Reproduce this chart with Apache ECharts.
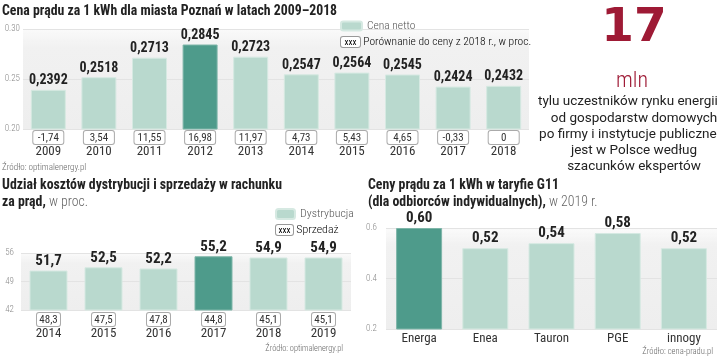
<!DOCTYPE html>
<html>
<head>
<meta charset="utf-8">
<script src="https://cdn.jsdelivr.net/npm/echarts@6/dist/echarts.min.js"></script>
<style>html,body{margin:0;padding:0;background:#fff}#c{width:720px;height:357px}</style>
</head>
<body>
<div id="c"></div>
<script>
// ---- data ----
const years1 = ['2009','2010','2011','2012','2013','2014','2015','2016','2017','2018'];
const price1 = [0.2392,0.2518,0.2713,0.2845,0.2723,0.2547,0.2564,0.2545,0.2424,0.2432];
const pct1 = [-1.74,3.54,11.55,16.98,11.97,4.73,5.43,4.65,-0.33,0];
const yTicks1 = [0.20,0.25,0.30];

const years2 = ['2014','2015','2016','2017','2018','2019'];
const dist2 = [51.7,52.5,52.2,55.2,54.9,54.9];
const sales2 = [48.3,47.5,47.8,44.8,45.1,45.1];
const yTicks2 = [42,49,56];

const companies3 = ['Energa','Enea','Tauron','PGE','innogy'];
const price3 = [0.60,0.52,0.54,0.58,0.52];
const yTicks3 = [0.2,0.4,0.6];

const highlight1 = '2012', highlight2 = '2017', highlight3 = 'Energa';

// ---- style ----
const FONT = '"Roboto Condensed",Roboto,sans-serif';
const PFONT = 'Roboto,sans-serif';
const LIGHT = '#b9d9ce', DARK = '#4e9b8b';
const comma = (v, d) => (d === undefined ? String(v) : v.toFixed(d)).replace('.', ',');

const gridBg = {type:'linear',x:0,y:0,x2:0,y2:1,colorStops:[
  {offset:0,color:'rgba(240,240,240,0.3)'},{offset:0.18,color:'#f1f1f1'},{offset:1,color:'#eeeeee'}]};

function barData(vals, cats, hl){
  return vals.map((v,i)=>({value:v, itemStyle: cats[i]===hl ? {color:DARK, borderColor:'#7fb6a9'} : {}}));
}
function valAxis(gi, min, max, interval, dec, margin){
  return {type:'value', gridIndex:gi, min, max, interval,
    axisLine:{show:false}, axisTick:{show:false},
    splitLine:{show:true, lineStyle:{color:'#e3e3e3', width:1}},
    axisLabel:{fontFamily:FONT, fontSize:9, fontWeight:300, color:'#8a8a8a', margin,
      formatter:v=>dec===0?String(Math.round(v)):v.toFixed(dec)}};
}
const boxRich = {fontFamily:FONT, fontSize:11, color:'#333', borderColor:'#aaaaaa', borderWidth:1,
  borderRadius:2, padding:[2,3,0,3], backgroundColor:'#fff', lineHeight:11, align:'center'};
const yrRich = {fontFamily:FONT, fontSize:13, color:'#333', lineHeight:17, align:'center'};
const TSIZE = 13.8;
const titleRich = {b:{fontFamily:FONT, fontSize:TSIZE, fontWeight:'bold', color:'#222', lineHeight:17},
                   l:{fontFamily:FONT, fontSize:TSIZE, fontWeight:300, color:'#666', lineHeight:17}};
const valLabel = {show:true, position:'top', distance:2, fontFamily:FONT, fontSize:14, fontWeight:'bold', color:'#222'};

const option = {
  animation:false,
  textStyle:{fontFamily:FONT},
  title:[
    {text:'Cena prądu za 1 kWh dla miasta Poznań w latach 2009–2018', left:2, top:5, padding:0,
     textStyle:{fontFamily:FONT, fontSize:TSIZE, fontWeight:'bold', color:'#222'}},
    {text:'{b|Udział kosztów dystrybucji i sprzedaży w rachunku}\n{b|za prąd,}{l| w proc.}', left:2, top:177, padding:0,
     textStyle:{rich:titleRich}},
    {text:'{b|Ceny prądu za 1 kWh w taryfie G11}\n{b|(dla odbiorców indywidualnych),}{l| w 2019 r.}', left:368, top:177, padding:0,
     textStyle:{rich:titleRich}}
  ],
  legend:[
    {data:['Cena netto'], left:340, top:20, padding:0, itemWidth:21, itemHeight:9, icon:'roundRect',
     textStyle:{fontFamily:FONT, fontSize:11.5, fontWeight:300, color:'#555'}},
    {data:['Dystrybucja'], left:275, top:208, padding:0, itemWidth:19, itemHeight:10, icon:'roundRect',
     textStyle:{fontFamily:FONT, fontSize:11.8, fontWeight:300, color:'#555'}}
  ],
  grid:[
    {left:23, top:29, width:506, height:100, show:true, backgroundColor:gridBg, borderWidth:0},
    {left:21, top:253, width:330, height:57, show:true, backgroundColor:gridBg, borderWidth:0},
    {left:386, top:228, width:331, height:101, show:true, backgroundColor:gridBg, borderWidth:0}
  ],
  xAxis:[
    {type:'category', gridIndex:0, data:years1, axisLine:{show:false}, axisTick:{show:false},
     axisLabel:{interval:0, margin:3, formatter:(v,i)=>'{p|'+comma(pct1[i])+'}\n{y|'+v+'}',
       rich:{p:Object.assign({}, boxRich, {width:24}), y:yrRich}}},
    {type:'category', gridIndex:1, data:years2, axisLine:{show:false}, axisTick:{show:false},
     axisLabel:{interval:0, margin:4, formatter:(v,i)=>'{p|'+comma(sales2[i],1)+'}\n{y|'+v+'}',
       rich:{p:Object.assign({}, boxRich, {width:17}), y:yrRich}}},
    {type:'category', gridIndex:2, data:companies3, axisLine:{show:false}, axisTick:{show:false},
     axisLabel:{interval:0, margin:3, fontFamily:FONT, fontSize:13, color:'#333'}}
  ],
  yAxis:[
    valAxis(0, yTicks1[0], yTicks1[2], yTicks1[1]-yTicks1[0], 2, 3),
    valAxis(1, yTicks2[0], yTicks2[2], yTicks2[1]-yTicks2[0], 0, 7),
    valAxis(2, yTicks3[0], yTicks3[2], 0.2, 1, 9)
  ],
  series:[
    {name:'Cena netto', type:'bar', xAxisIndex:0, yAxisIndex:0, barWidth:35,
     itemStyle:{color:LIGHT, borderColor:'#d6e9e2', borderWidth:1},
     label:Object.assign({formatter:p=>comma(p.value,4)}, valLabel),
     data:barData(price1, years1, highlight1)},
    {name:'Dystrybucja', type:'bar', xAxisIndex:1, yAxisIndex:1, barWidth:38,
     itemStyle:{color:LIGHT, borderColor:'#d6e9e2', borderWidth:1},
     label:Object.assign({formatter:p=>comma(p.value,1)}, valLabel, {fontSize:15}),
     data:barData(dist2, years2, highlight2)},
    {name:'G11', type:'bar', xAxisIndex:2, yAxisIndex:2, barWidth:46,
     itemStyle:{color:LIGHT, borderColor:'#d6e9e2', borderWidth:1},
     label:Object.assign({formatter:p=>comma(p.value,2)}, valLabel, {fontSize:15}),
     data:barData(price3, companies3, highlight3)}
  ],
  graphic:[
    {type:'text', left:340, top:36, style:{text:'{b|xxx} {t|Porównanie do ceny z 2018 r., w proc.}',
      rich:{b:{fontFamily:FONT, fontSize:9, color:'#444', borderColor:'#999', borderWidth:1, borderRadius:2,
               padding:[1,2,0,2], width:15, align:'center', backgroundColor:'#fff'},
            t:{fontFamily:FONT, fontSize:11.5, fontWeight:300, color:'#555'}}}},
    {type:'text', left:275, top:224, style:{text:'{b|xxx} {t|Sprzedaż}',
      rich:{b:{fontFamily:FONT, fontSize:9, color:'#444', borderColor:'#999', borderWidth:1, borderRadius:2,
               padding:[1,2,0,2], width:13, align:'center', backgroundColor:'#fff'},
            t:{fontFamily:FONT, fontSize:11.8, fontWeight:300, color:'#555'}}}},
    {type:'text', left:2, top:163, style:{text:'Źródło: optimalenergy.pl', fontFamily:FONT, fontSize:9, fontWeight:300, fill:'#666'}},
    {type:'text', right:377, top:345, style:{text:'Źródło: optimalenergy.pl', fontFamily:FONT, fontSize:8.3, fontWeight:300, fill:'#666'}},
    {type:'text', right:7, top:347, style:{text:'Źródło: cena-pradu.pl', fontFamily:FONT, fontSize:8.6, fontWeight:300, fill:'#666'}},
    {type:'text', x:634, y:29, style:{text:'17', fontFamily:'"DejaVu Sans",sans-serif', fontSize:47, fontWeight:'bold',
      fill:'#9e1a35', align:'center', verticalAlign:'middle'}},
    {type:'text', x:632, y:81, style:{text:'mln', fontFamily:FONT, fontSize:22, fontWeight:300,
      fill:'#9e1a35', align:'center', verticalAlign:'middle'}},
    {type:'text', x:634, y:94, style:{text:'tylu uczestników rynku energii –\nod gospodarstw domowych\npo firmy i instytucje publiczne –\njest w Polsce według\nszacunków ekspertów',
      fontFamily:PFONT, fontSize:13.5, fill:'#222', align:'center', verticalAlign:'top', lineHeight:16.2}}
  ]
};
echarts.init(document.getElementById('c'), null, {renderer:'canvas'}).setOption(option);
</script>
</body>
</html>
